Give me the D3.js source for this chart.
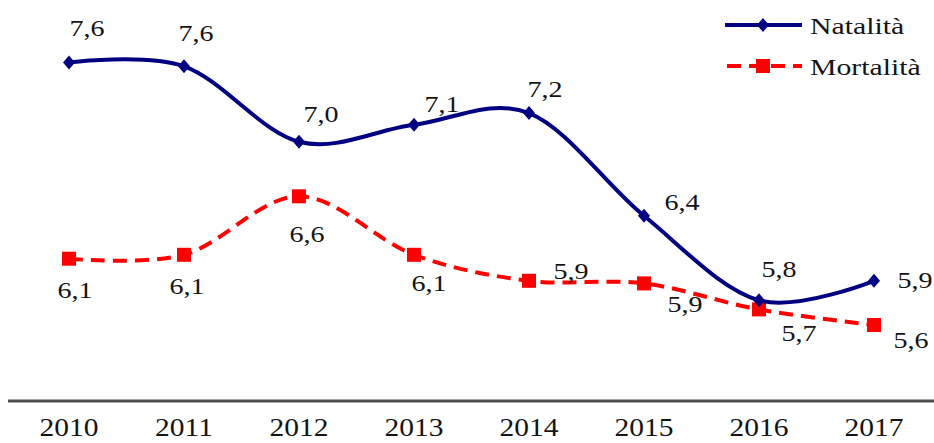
<!DOCTYPE html>
<html>
<head>
<meta charset="utf-8">
<script src="https://cdn.jsdelivr.net/npm/d3@7"></script>
<style>
  body { margin: 0; background: #fff; }
  text { font-family: "Liberation Serif", "Times New Roman", serif; fill: #141414; }
</style>
</head>
<body>
<svg id="chart"></svg>
<script>
// data
var years = ["2010", "2011", "2012", "2013", "2014", "2015", "2016", "2017"];
var natalita = [7.62, 7.59, 7.01, 7.14, 7.23, 6.44, 5.79, 5.94];
var mortalita = [6.11, 6.14, 6.59, 6.14, 5.94, 5.92, 5.72, 5.60];
var seriesNames = ["Natalità", "Mortalità"];

// where each value label sits relative to its point
var natLabelOff = [[18, -26], [12, -25], [22, -20], [28, -13], [16, -16], [38, -6], [20, -23], [41, 7]];
var mortLabelOff = [[6, 39], [3, 39], [8, 46], [15, 36], [42, -2], [41, 29], [40, 32], [37, 23]];

var width = 934, height = 443;
var svg = d3.select("#chart").attr("width", width).attr("height", height);

var x = d3.scalePoint().domain(years).range([11.5, 931.5]).padding(0.5);
var y = d3.scaleLinear().domain([5.6, 7.6]).range([325, 65]);

var fmt = function(v){ return d3.format(".1f")(v).replace(".", ","); };
var stretch = 1.22;

// bottom axis line
svg.append("line")
    .attr("x1", 8).attr("x2", 934)
    .attr("y1", 401).attr("y2", 401)
    .attr("stroke", "#505050").attr("stroke-width", 3);

// year labels
svg.selectAll(".year").data(years).enter().append("text")
    .attr("class", "year")
    .attr("text-anchor", "middle")
    .attr("font-size", 25)
    .attr("transform", function(d){ return "translate(" + x(d) + ",436) scale(1.18,1)"; })
    .text(function(d){ return d; });

var line = d3.line()
    .x(function(d, i){ return x(years[i]); })
    .y(function(d){ return y(d); })
    .curve(d3.curveCardinal.tension(0));

var diamond = "M0,-7L6,0L0,7L-6,0Z";

// mortalita (behind)
svg.append("path").datum(mortalita)
    .attr("d", line)
    .attr("fill", "none")
    .attr("stroke", "#ff0000")
    .attr("stroke-width", 4)
    .attr("stroke-dasharray", "14,8");
svg.selectAll(".sq").data(mortalita).enter().append("rect")
    .attr("class", "sq")
    .attr("x", function(d, i){ return x(years[i]) - 7; })
    .attr("y", function(d){ return y(d) - 7; })
    .attr("width", 14).attr("height", 14)
    .attr("fill", "#ff0000");

// natalita
svg.append("path").datum(natalita)
    .attr("d", line)
    .attr("fill", "none")
    .attr("stroke", "#000080")
    .attr("stroke-width", 4);
svg.selectAll(".dm").data(natalita).enter().append("path")
    .attr("class", "dm")
    .attr("d", diamond)
    .attr("transform", function(d, i){ return "translate(" + x(years[i]) + "," + y(d) + ")"; })
    .attr("fill", "#000080");

// value labels
function addLabels(vals, offs, cls){
  svg.selectAll("." + cls).data(vals).enter().append("text")
      .attr("class", cls)
      .attr("text-anchor", "middle")
      .attr("font-size", 23)
      .attr("transform", function(d, i){
        return "translate(" + (x(years[i]) + offs[i][0]) + "," + (y(d) + offs[i][1]) + ") scale(" + stretch + ",1)";
      })
      .text(fmt);
}
addLabels(natalita, natLabelOff, "nl");
addLabels(mortalita, mortLabelOff, "ml");

// legend
var leg = svg.append("g");
leg.append("line").attr("x1", 725).attr("x2", 802).attr("y1", 25).attr("y2", 25)
    .attr("stroke", "#000080").attr("stroke-width", 4);
leg.append("path").attr("d", diamond).attr("transform", "translate(763,25)").attr("fill", "#000080");
leg.append("line").attr("x1", 725).attr("x2", 802).attr("y1", 66).attr("y2", 66)
    .attr("stroke", "#ff0000").attr("stroke-width", 4).attr("stroke-dasharray", "14,8")
    .attr("stroke-dashoffset", -2);
leg.append("rect").attr("x", 756).attr("y", 59).attr("width", 14).attr("height", 14).attr("fill", "#ff0000");
leg.selectAll(".lt").data(seriesNames).enter().append("text")
    .attr("class", "lt")
    .attr("font-size", 24)
    .attr("transform", function(d, i){ return "translate(810," + (34 + i * 41) + ") scale(1.24,1)"; })
    .text(function(d){ return d; });
</script>
</body>
</html>
